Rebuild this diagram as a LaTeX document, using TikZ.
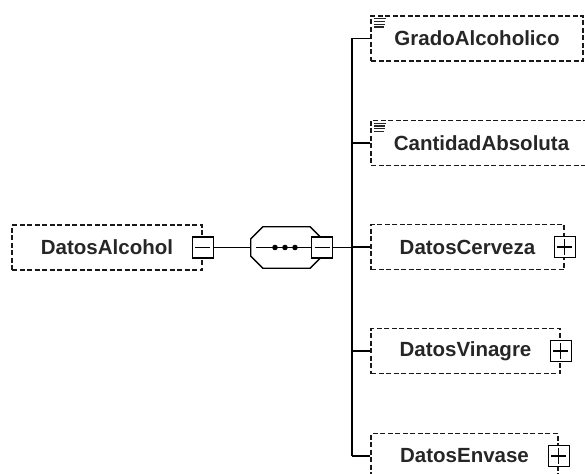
\documentclass[tikz,border=0pt]{standalone}
\usepackage{fontspec}
\setmainfont{Liberation Sans}
\begin{document}
\begin{tikzpicture}[x=1pt,y=-1pt,
  elem/.style={draw=black!90,line width=1.3pt,dash pattern=on 5pt off 2.5pt,
    inner sep=0pt,minimum height=45pt,text=black!85,
    font=\fontsize{20.5}{24}\selectfont\bfseries},
  tog/.style={draw=black,fill=white,line width=1.3pt,minimum size=21pt,inner sep=0pt},
  conn/.style={line width=1.6pt,draw=black},
  icon/.style={line width=1.2pt,draw=black!85}]
\useasboundingbox (0,0) rectangle (585,473);
% elements
\node[elem,minimum width=190pt] (alc) at (107,247.5) {DatosAlcohol};
\node[elem,minimum width=212pt] (grado) at (477,38.5) {GradoAlcoholico};
\node[elem,minimum width=221pt] (cant) at (481.5,143) {CantidadAbsoluta};
\node[elem,minimum width=193pt] (cerv) at (467.5,247) {DatosCerveza};
\node[elem,minimum width=189pt] (vin) at (465.5,351) {DatosVinagre};
\node[elem,minimum width=187pt] (env) at (464.5,456) {DatosEnvase};
% sequence compositor
\node[inner sep=0pt,minimum width=71pt,minimum height=41pt] (seq) at (286.5,247.5) {};
\draw[line width=1.3pt,fill=white]
  ([xshift=12pt]seq.north west) -- ([xshift=-12pt]seq.north east)
  -- ([yshift=-12pt]seq.north east) -- ([yshift=12pt]seq.south east)
  -- ([xshift=-12pt]seq.south east) -- ([xshift=12pt]seq.south west)
  -- ([yshift=12pt]seq.south west) -- ([yshift=-12pt]seq.north west) -- cycle;
\draw[conn] ([xshift=5pt]seq.west) -- (seq.east);
\foreach \dx in {-11.5,-1.5,8.5}
  \fill ([xshift=\dx pt]seq.center) circle (2.8pt);
% toggles
\node[tog] (alcm) at (alc.east) {};
\node[tog] (seqm) at (seq.east) {};
\node[tog] (cervp) at (cerv.east) {};
\node[tog] (vinp) at (vin.east) {};
\node[tog] (envp) at (env.east) {};
\foreach \n in {alcm,seqm,cervp,vinp,envp}
  \draw[line width=1.3pt] ([xshift=3.5pt]\n.west) -- ([xshift=-3.5pt]\n.east);
\foreach \n in {cervp,vinp,envp}
  \draw[line width=1.3pt] ([yshift=-3.5pt]\n.north) -- ([yshift=3.5pt]\n.south);
% document icons
\foreach \n in {grado,cant}{
  \draw[icon] ([xshift=4pt,yshift=-3.5pt]\n.north west) -- +(12pt,0);
  \draw[icon] ([xshift=4pt,yshift=-6.2pt]\n.north west) -- +(11pt,0);
  \draw[icon] ([xshift=4pt,yshift=-8.9pt]\n.north west) -- +(11pt,0);
  \draw[icon] ([xshift=4pt,yshift=-11.6pt]\n.north west) -- +(10pt,0);
}
% connectors
\coordinate (sp) at (352,247);
\draw[conn] (alcm.east) -- (seq.west);
\draw[conn] (seqm.east) -- (seqm.east -| sp);
\draw[conn] (grado.west -| sp) -- (env.west -| sp);
\foreach \n in {grado,cant,cerv,vin,env}
  \draw[conn] (\n.west -| sp) -- (\n.west);
\end{tikzpicture}
\end{document}
